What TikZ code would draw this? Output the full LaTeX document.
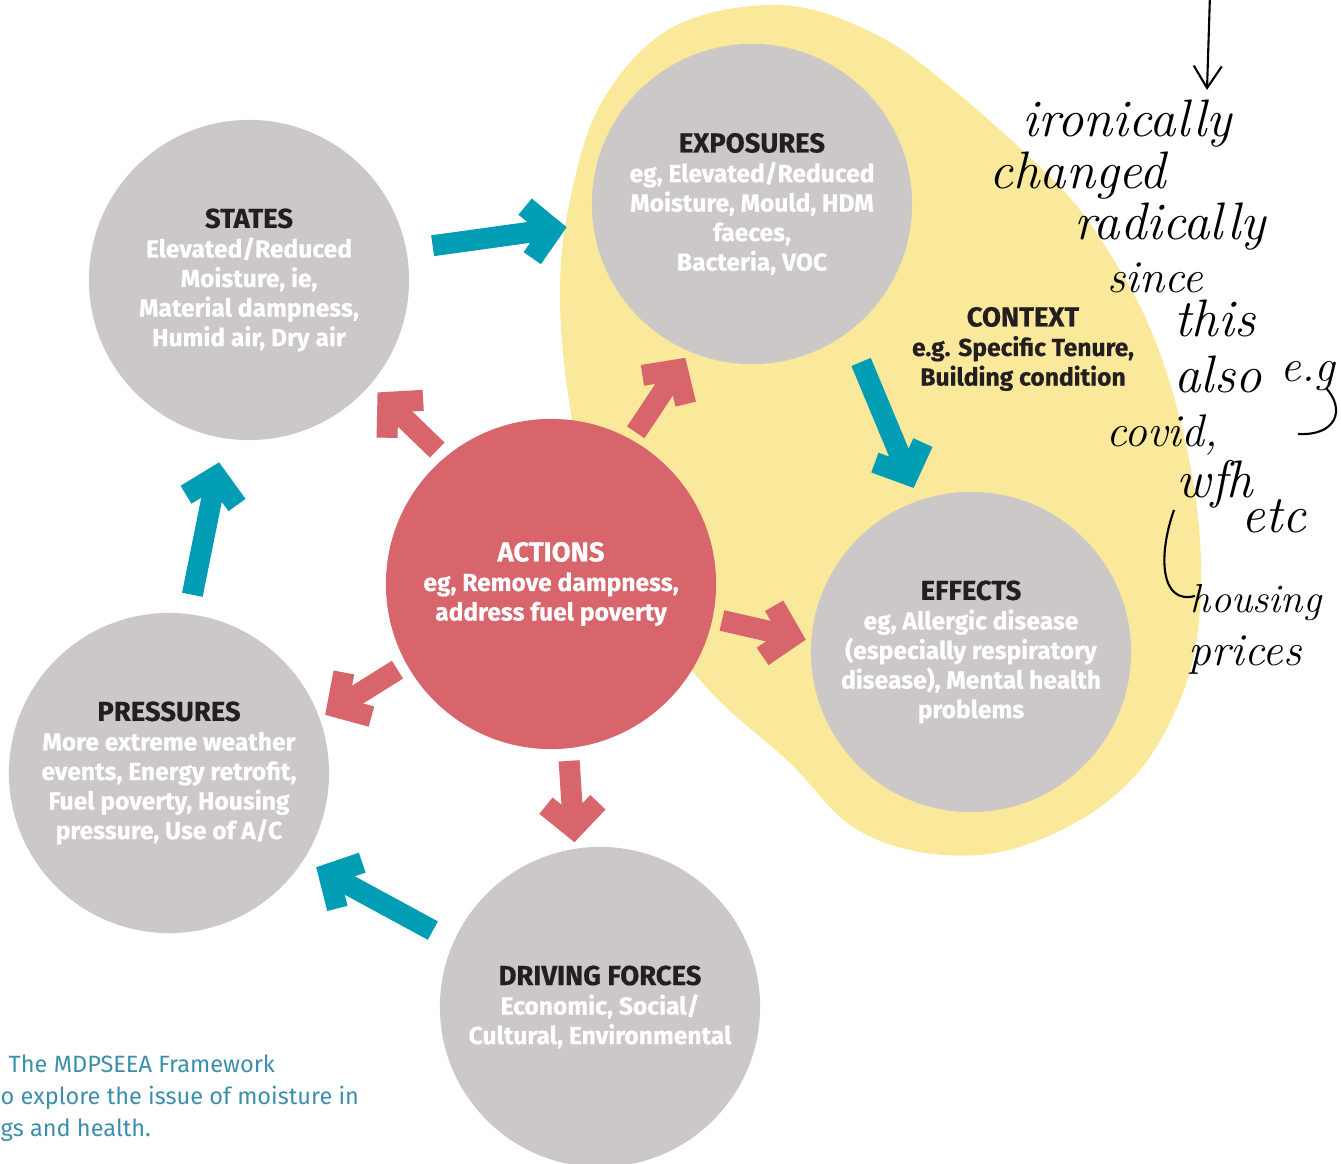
\documentclass[tikz,border=0pt]{standalone}
\usepackage{fontspec}
\newfontfamily\firafont{Fira Sans}[BoldFeatures={FakeBold=0.5}]
\usetikzlibrary{arrows.meta}
\definecolor{dpgrey}{HTML}{CCC8C7}
\definecolor{dpred}{HTML}{D8646C}
\definecolor{dpblue}{HTML}{009DB4}
\definecolor{dpyellow}{HTML}{FAE99B}
\definecolor{dpink}{HTML}{231F20}
\definecolor{dpcaption}{HTML}{3B8FAC}
\tikzstyle{stagebox} = [circle, minimum size=3.2cm, inner sep=0pt, fill=dpgrey, text=white, align=center, font=\firafont\bfseries\fontsize{7}{8.4}\selectfont]
\tikzstyle{actionbox} = [stagebox, minimum size=3.3cm, fill=dpred]
\tikzstyle{flowarrow} = [line width=0.21cm, draw=dpblue, -{Straight Barb[length=0.24cm,width=0.52cm]}]
\tikzstyle{pusharrow} = [flowarrow, draw=dpred]
\tikzstyle{scrawl} = [inner sep=0pt, font=\itshape\fontsize{15}{18}\selectfont]
\tikzstyle{scrawlsmall} = [inner sep=0pt, font=\itshape\fontsize{13}{15}\selectfont]
\tikzstyle{pen} = [line width=0.6pt]
\newcommand{\stagetitle}[2][dpink]{{\color{#1}\fontsize{7.8}{8.4}\selectfont #2}}

\begin{document}
\begin{tikzpicture}[x=0.01cm, y=-0.01cm]
    \useasboundingbox (0,0) rectangle (1341,1164);
    % context blob
    \fill [dpyellow] plot [smooth cycle, tension=0.6] coordinates {(780,5) (873,33) (950,87) (1060,187) (1115,262) (1155,340) (1185,440) (1200,540) (1198,630) (1180,700) (1140,770) (1080,820) (1000,852) (920,852) (850,825) (790,763) (700,680) (600,540) (572,420) (560,300) (570,200) (603,100) (673,27)};
    \node (Context) [align=center, text=dpink, font=\firafont\bfseries\fontsize{7}{8.4}\selectfont] at (1023,349) {\stagetitle{CONTEXT}\\e.g. Specific Tenure,\\Building condition};

    \node (States) [stagebox] at (249,280) {\stagetitle{STATES}\\Elevated/Reduced\\Moisture, ie,\\Material dampness,\\Humid air, Dry air};
    \node (Exposures) [stagebox] at (752,204) {\stagetitle{EXPOSURES}\\eg, Elevated/Reduced\\Moisture, Mould, HDM\\faeces,\\Bacteria, VOC};
    \node (Actions) [actionbox] at (551,584) {\stagetitle[white]{ACTIONS}\\eg, Remove dampness,\\address fuel poverty};
    \node (Effects) [stagebox] at (971,652) {\stagetitle{EFFECTS}\\eg, Allergic disease\\(especially respiratory\\disease), Mental health\\problems};
    \node (Pressures) [stagebox] at (169,773) {\stagetitle{PRESSURES}\\More extreme weather\\events, Energy retrofit,\\Fuel poverty, Housing\\pressure, Use of A/C};
    \node (Driving) [stagebox] at (600,1007) {\stagetitle{DRIVING FORCES}\\Economic, Social/\\Cultural, Environmental};

    \draw [flowarrow, shorten <=0.26cm, shorten >=0.26cm] (States.11) -- (Exposures.187);
    \draw [flowarrow, shorten <=0.32cm, shorten >=0.13cm] (Exposures.-53) -- (Effects.109);
    \draw [flowarrow, shorten <=0.19cm, shorten >=0.24cm] (Pressures.83) -- (States.-99);
    \draw [flowarrow, shorten <=0.23cm, shorten >=0.14cm] (Driving.156) -- (Pressures.-33);
    \draw [pusharrow, shorten <=0.10cm, shorten >=0.10cm] (Actions.130) -- (States.-41);
    \draw [pusharrow, shorten <=0.08cm, shorten >=0.07cm] (Actions.61) -- (Exposures.-113);
    \draw [pusharrow, shorten <=0.09cm, shorten >=0.05cm] (Actions.-12) -- (Effects.176);
    \draw [pusharrow, shorten <=0.12cm, shorten >=0.06cm] (Actions.-84) -- (Driving.99);
    \draw [pusharrow, shorten <=0.10cm, shorten >=0.06cm] (Actions.209) -- (Pressures.20);

    \node (Caption) [anchor=west, inner sep=0pt, align=left, text=dpcaption, font=\firafont\fontsize{6.7}{9.1}\selectfont] at (0,1098) {\hspace*{0.08cm}The MDPSEEA Framework\\o explore the issue of moisture in\\gs and health.};

    % handwritten note
    \coordinate (penTop) at (1210,-5);
    \coordinate (penTip) at (1207,90);
    \draw [pen, -{Straight Barb[length=0.22cm,width=0.28cm]}] (penTop) -- (penTip);
    \node (ironically) [scrawl] at (1127,124) {ironically};
    \node (changed) [scrawl] at (1078,176) {changed};
    \node (radically) [scrawl] at (1170,227) {radically};
    \node (since) [scrawlsmall] at (1155,278) {since};
    \node (this) [scrawl] at (1215,318) {this};
    \node (also) [scrawl] at (1218,374) {also};
    \node (eg) [scrawlsmall] at (1308,376) {e.g};
    \node (covid) [scrawlsmall] at (1162,435) {covid,};
    \node (wfh) [scrawl] at (1215,484) {wfh};
    \node (etc) [scrawl] at (1274,516) {etc};
    \node (housing) [scrawlsmall, font=\itshape\fontsize{11.5}{14}\selectfont] at (1256,603) {housing};
    \node (prices) [scrawlsmall] at (1245,655) {prices};
    \draw [pen] (1326,388) .. controls (1346,410) and (1336,436) .. (1298,434);
    \draw [pen] (1174,510) .. controls (1158,555) and (1160,605) .. (1195,596);
\end{tikzpicture}
\end{document}
